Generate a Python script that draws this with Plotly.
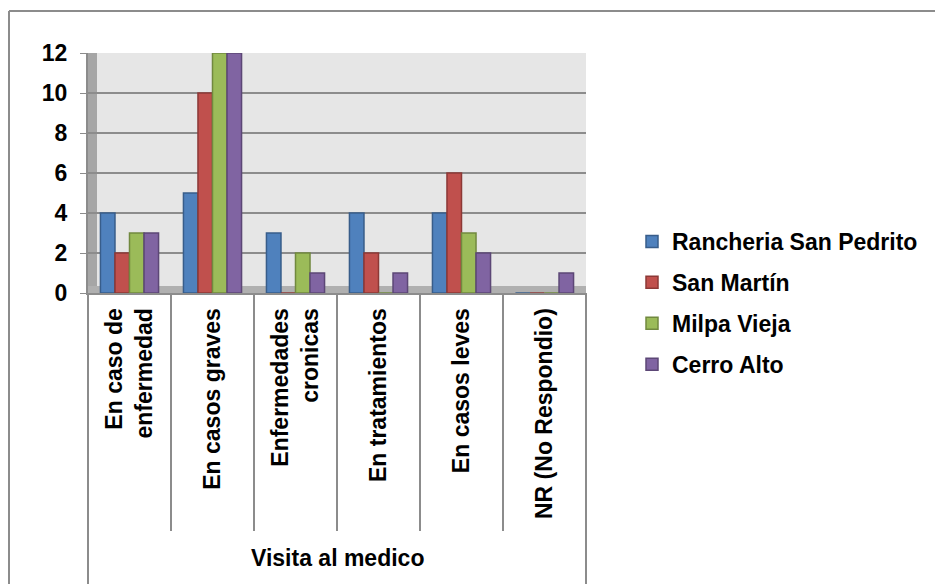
import plotly.graph_objects as go

categories = ["En caso de<br>enfermedad", "En casos graves", "Enfermedades<br>cronicas",
              "En tratamientos", "En casos leves", "NR (No Respondio)"]
group_label = "Visita al medico"
series_names = ["Rancheria San Pedrito", "San Martín", "Milpa Vieja", "Cerro Alto"]
series_values = [
    [4, 5, 3, 4, 4, 0],
    [2, 10, 0, 2, 6, 0],
    [3, 12, 2, 0, 3, 0],
    [3, 12, 1, 1, 2, 1],
]
colors = ["#4f81bd", "#c0504d", "#9bbb59", "#8064a2"]
edges = ["#385d8a", "#8c3836", "#71893f", "#5c4776"]
y_ticks = [0, 2, 4, 6, 8, 10, 12]

W, H = 935, 584
L, R = 88, 586
T, B = 53, 293

fig = go.Figure()
for i, (name, vals) in enumerate(zip(series_names, series_values)):
    fig.add_trace(go.Bar(
        x=categories, y=vals, name=name, legendgroup=name,
        marker=dict(color=colors[i], line=dict(color=edges[i], width=1.5)),
    ))

def px_x(p):
    return (p - L) / (R - L)

def px_y(p):
    return (B - p) / (B - T)

grey = "#8c8c8c"
shapes = [
    # outer chart border (top and left)
    dict(type="line", xref="paper", yref="paper", x0=px_x(9), x1=px_x(935), y0=px_y(11), y1=px_y(11),
         line=dict(color=grey, width=2)),
    dict(type="line", xref="paper", yref="paper", x0=px_x(9), x1=px_x(9), y0=px_y(11), y1=px_y(584),
         line=dict(color=grey, width=2)),
    # left side wall
    dict(type="rect", xref="paper", yref="paper", x0=0, x1=px_x(97), y0=0, y1=1,
         fillcolor="#a6a6a6", line=dict(width=0), layer="between"),
    # floor
    dict(type="rect", xref="paper", yref="paper", x0=0, x1=1, y0=px_y(293), y1=px_y(286),
         fillcolor="#b0b0b0", line=dict(width=0), layer="between"),
    # outer category-table lines down to the bottom
    dict(type="line", xref="paper", yref="paper", x0=0, x1=0, y0=0, y1=px_y(584),
         line=dict(color=grey, width=2)),
    dict(type="line", xref="paper", yref="paper", x0=1, x1=1, y0=0, y1=px_y(584),
         line=dict(color=grey, width=2)),
]
n = len(categories)
for k in range(1, n):
    shapes.append(dict(type="line", xref="paper", yref="paper", x0=k / n, x1=k / n,
                       y0=0, y1=px_y(531), line=dict(color=grey, width=2)))

fig.update_layout(
    width=W, height=H,
    margin=dict(l=L, r=W - R, t=T, b=H - B, pad=0),
    paper_bgcolor="white", plot_bgcolor="#e6e6e6",
    barmode="group", bargap=0.3, bargroupgap=0.0,
    font=dict(family="Liberation Sans, Arial, sans-serif", size=23, color="black", weight="bold"),
    showlegend=True,
    legend=dict(x=px_x(632), xanchor="left", y=px_y(220), yanchor="top",
                font=dict(size=23, weight="bold"), tracegroupgap=8,
                bgcolor="rgba(0,0,0,0)", itemwidth=30),
    shapes=shapes,
    annotations=[dict(text=group_label, xref="paper", yref="paper", x=0.5, y=px_y(558),
                      xanchor="center", yanchor="middle", showarrow=False,
                      font=dict(size=23, weight="bold", color="black"))],
    xaxis=dict(type="category", tickangle=-90, showline=True, linecolor=grey, linewidth=2,
               ticks="", tickfont=dict(size=23, weight="bold"), showgrid=False,
               automargin=False, ticklabelstandoff=4),
    yaxis=dict(range=[0, 12], tickvals=y_ticks, showgrid=True, gridcolor=grey, gridwidth=2,
               showline=True, linecolor=grey, linewidth=2, ticks="outside", ticklen=6,
               tickcolor=grey, tickfont=dict(size=23, weight="bold"), zeroline=False,
               ticklabelstandoff=8),
)

fig.write_html("out.html")
